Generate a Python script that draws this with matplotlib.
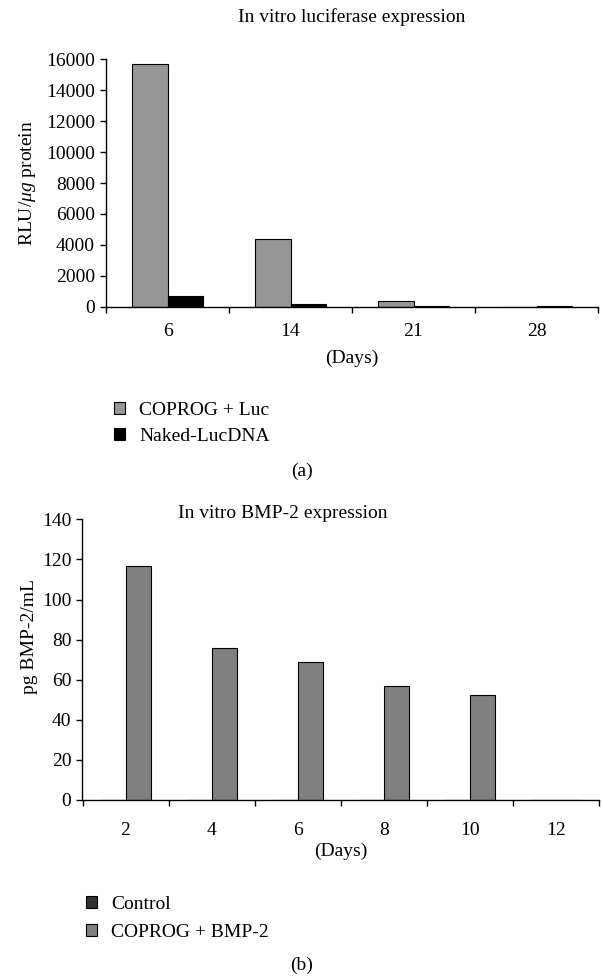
import matplotlib
matplotlib.use("Agg")
import matplotlib.pyplot as plt
import numpy as np

plt.rcParams['font.family'] = ['Liberation Serif', 'DejaVu Serif']
plt.rcParams['mathtext.fontset'] = 'custom'
plt.rcParams['mathtext.rm'] = 'Liberation Serif'
plt.rcParams['mathtext.it'] = 'Liberation Serif:italic'
plt.rcParams['font.size'] = 14

# (a) luciferase
luc_days = ['6', '14', '21', '28']
coprog_luc = [15700, 4400, 390, 0]
naked_luc = [690, 150, 20, 40]

# (b) BMP-2
bmp_days = ['2', '4', '6', '8', '10', '12']
control_bmp = [0, 0, 0, 0, 0, 0]
coprog_bmp = [116.5, 76, 69, 57, 52.2, 0]

W, H = 603, 976
fig = plt.figure(figsize=(W / 100, H / 100), dpi=100)


def px_axes(left, top, right, bottom):
    return fig.add_axes([left / W, 1 - bottom / H, (right - left) / W, (bottom - top) / H])


def style_axes(ax, n, xpad):
    for s in ['top', 'right']:
        ax.spines[s].set_visible(False)
    ax.spines['left'].set_linewidth(1.0)
    ax.spines['bottom'].set_linewidth(1.0)
    ax.set_xlim(-0.5, n - 0.5)
    # boundary ticks
    ax.set_xticks(np.arange(n + 1) - 0.5, minor=True)
    ax.tick_params(axis='x', which='minor', length=4, width=1, direction='out')
    ax.tick_params(axis='x', which='major', length=0, pad=xpad)
    ax.tick_params(axis='y', length=4, width=1, direction='out', pad=4)


# ---- top chart
ax1 = px_axes(106, 59.3, 598, 306.7)
x = np.arange(len(luc_days))
bw = 0.287
b1 = ax1.bar(x - bw / 2, coprog_luc, bw, color='#969696', edgecolor='black', linewidth=0.8,
             label='COPROG + Luc')
b2 = ax1.bar(x + bw / 2, naked_luc, bw, color='black', edgecolor='black', linewidth=0.8,
             label='Naked-LucDNA')
style_axes(ax1, len(luc_days), 12)
ax1.set_xticks(x, luc_days)
ax1.set_ylim(0, 16000)
ax1.set_yticks(np.arange(0, 16001, 2000))

fig.text(352 / W, 1 - 17 / H, 'In vitro luciferase expression', ha='center', va='center')
fig.text(27 / W, 1 - 183 / H, r'RLU/$\mu g$ protein', ha='center', va='center', rotation=90)
fig.text(352 / W, 1 - 358 / H, '(Days)', ha='center', va='center')
fig.legend([b1, b2], ['COPROG + Luc', 'Naked-LucDNA'], loc='upper left',
           bbox_to_anchor=(114 / W, 1 - 402 / H), bbox_transform=fig.transFigure,
           frameon=False, borderpad=0, borderaxespad=0, handlelength=0.57, handleheight=0.57,
           handletextpad=0.72, labelspacing=0.45)
fig.text(302 / W, 1 - 471 / H, '(a)', ha='center', va='center')

# ---- bottom chart
ax2 = px_axes(82.5, 519.3, 599, 800)
x = np.arange(len(bmp_days))
bw = 0.29
c1 = ax2.bar(x - bw / 2, control_bmp, bw, color='#333333', edgecolor='black', linewidth=0.8,
             label='Control')
c2 = ax2.bar(x + bw / 2, coprog_bmp, bw, color='#808080', edgecolor='black', linewidth=0.8,
             label='COPROG + BMP-2')
style_axes(ax2, len(bmp_days), 16)
ax2.set_xticks(x, bmp_days)
ax2.set_ylim(0, 140)
ax2.set_yticks(np.arange(0, 141, 20))

fig.text(283 / W, 1 - 513 / H, 'In vitro BMP-2 expression', ha='center', va='center')
fig.text(29 / W, 1 - 636 / H, 'pg BMP-2/mL', ha='center', va='center', rotation=90)
fig.text(341 / W, 1 - 851 / H, '(Days)', ha='center', va='center')
fig.legend([c1, c2], ['Control', 'COPROG + BMP-2'], loc='upper left',
           bbox_to_anchor=(86 / W, 1 - 896 / H), bbox_transform=fig.transFigure,
           frameon=False, borderpad=0, borderaxespad=0, handlelength=0.57, handleheight=0.57,
           handletextpad=0.72, labelspacing=0.55)
fig.text(302 / W, 1 - 965 / H, '(b)', ha='center', va='center')

fig.savefig('out.png', dpi=100)
